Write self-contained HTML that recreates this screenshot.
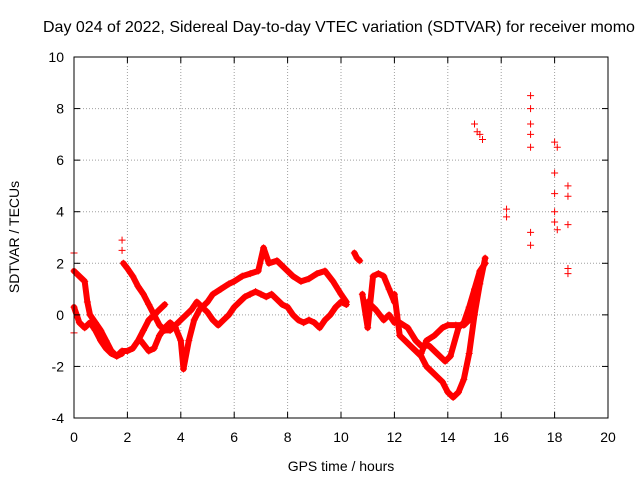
<!DOCTYPE html>
<html><head><meta charset="utf-8"><style>
html,body{margin:0;padding:0;background:#fff;overflow:hidden}
svg{display:block;font-family:"Liberation Sans",sans-serif}
</style></head><body>
<svg id="chart" width="640" height="480" viewBox="0 0 640 480">
<text x="43" y="32" font-size="16" fill="#000">Day 024 of 2022, Sidereal Day-to-day VTEC variation (SDTVAR) for receiver momo</text>
<g id="grid"></g>
<g id="series"></g>
<rect x="74" y="57" width="534" height="361" fill="none" stroke="#000" stroke-width="1"/>
<g id="ticks"></g>
<text x="341" y="471" font-size="14" text-anchor="middle">GPS time / hours</text>
<text x="19" y="237" font-size="14" text-anchor="middle" transform="rotate(-90 19 237)">SDTVAR / TECUs</text>
</svg>
<script>
const xTicks=[0,2,4,6,8,10,12,14,16,18,20];
const yTicks=[-4,-2,0,2,4,6,8,10];
const traceA=[[0,1.7],[0.2,1.5],[0.4,1.3],[0.5,0.5],[0.6,0],[0.8,-0.3],[1,-0.6],[1.2,-1],[1.4,-1.4],[1.6,-1.6],[1.8,-1.4],[2,-1.4],[2.2,-1.3],[2.4,-1],[2.6,-0.6],[2.8,-0.2],[3,0],[3.2,0.2],[3.4,0.4]];
const traceB=[[0,0.3],[0.2,-0.3],[0.4,-0.5],[0.6,-0.3],[0.8,-0.6],[1,-1],[1.2,-1.3],[1.4,-1.5],[1.6,-1.6],[1.8,-1.5]];
const traceC=[[1.85,2],[2,1.8],[2.2,1.5],[2.4,1.1],[2.6,0.8],[2.8,0.4],[3,0],[3.2,-0.4],[3.4,-0.6],[3.6,-0.6],[3.8,-0.4],[4,-0.2],[4.2,0],[4.4,0.2],[4.6,0.5],[4.8,0.3],[5,0.1],[5.2,-0.2],[5.4,-0.4],[5.6,-0.2],[5.8,0],[6,0.3],[6.2,0.5],[6.4,0.7],[6.6,0.8],[6.8,0.9],[7,0.8],[7.2,0.7],[7.4,0.8],[7.6,0.6],[7.8,0.4],[8,0.3],[8.2,0],[8.4,-0.2],[8.6,-0.3],[8.8,-0.2],[9,-0.3],[9.2,-0.5],[9.4,-0.2],[9.6,0],[9.8,0.3],[10,0.5],[10.2,0.4]];
const traceD=[[2.5,-1],[2.8,-1.4],[3,-1.3],[3.2,-0.8],[3.4,-0.5],[3.6,-0.3],[3.8,-0.5],[4,-1],[4.1,-2.1],[4.3,-1],[4.5,-0.2],[4.7,0.2],[5,0.5],[5.2,0.8],[5.5,1],[5.8,1.2],[6,1.3],[6.3,1.5],[6.6,1.6],[6.9,1.7],[7.1,2.6],[7.3,2],[7.6,2.1],[7.9,1.8],[8.2,1.5],[8.5,1.3],[8.8,1.4],[9.1,1.6],[9.4,1.7],[9.7,1.3],[10,0.8],[10.2,0.5]];
const traceE=[[12,0.8],[12.1,0],[12.2,-0.8],[12.4,-1],[12.6,-1.2],[12.8,-1.4],[13,-1.6],[13.2,-2],[13.4,-2.2],[13.6,-2.4],[13.8,-2.6],[14,-3],[14.2,-3.2],[14.4,-3],[14.6,-2.5],[14.8,-1.5],[15,0],[15.2,1.2],[15.4,2.2]];
const traceF=[[12.2,-0.3],[12.5,-0.5],[12.8,-1],[13,-1.2],[13.3,-1.2],[13.6,-1.5],[13.9,-1.8],[14.1,-1.6],[14.4,-0.5],[14.6,-0.3],[14.8,0.3],[15,1],[15.2,1.7],[15.4,2]];
const traceG=[[13,-1.5],[13.2,-1],[13.5,-0.8],[13.8,-0.5],[14,-0.4],[14.3,-0.4],[14.6,-0.4],[14.8,-0.2],[15,0.8]];
const traceH=[[10.5,2.4],[10.6,2.2],[10.7,2.1]];
const traceI=[[10.8,0.8],[11,-0.5],[11.2,1.5],[11.4,1.6],[11.6,1.5],[11.8,1],[12,0.5]];
const traceJ=[[11,0.5],[11.3,0.2],[11.6,-0.2],[11.8,0],[12,-0.3]];
const isolated=[[1.8,2.9],[1.8,2.5],[15,7.4],[15.1,7.1],[15.2,7],[15.3,6.8],[16.2,4.1],[16.2,3.8],[17.1,8.5],[17.1,8],[17.1,7.4],[17.1,7],[17.1,6.5],[17.1,3.2],[17.1,2.7],[18,6.7],[18.1,6.5],[18,5.5],[18,4.7],[18,4],[18,3.6],[18.1,3.3],[18.5,5],[18.5,4.6],[18.5,3.5],[18.5,1.8],[18.5,1.6],[0,2.4],[0,-0.7]];
const traces=[traceA,traceB,traceC,traceD,traceE,traceF,traceG,traceH,traceI,traceJ];

const NS="http://www.w3.org/2000/svg";
const X0=74,X1=608,Y0=418,Y1=57;
function sx(h){return X0+(h-0)/(20-0)*(X1-X0);}
function sy(v){return Y0-(v+4)/(14)*(Y0-Y1);}
function mk(tag,attrs,parent){const e=document.createElementNS(NS,tag);for(const k in attrs)e.setAttribute(k,attrs[k]);parent.appendChild(e);return e;}
const grid=document.getElementById('grid'),ticks=document.getElementById('ticks'),ser=document.getElementById('series');
xTicks.forEach(t=>{
  const x=sx(t);
  if(t>0&&t<20){const l=mk('line',{x1:x,x2:x,y1:Y1,y2:Y0,stroke:'#a0a0a0','stroke-dasharray':'1,2'},grid);
  
  }
  mk('line',{x1:x,x2:x,y1:Y0,y2:Y0-6,stroke:'#000'},ticks);
  mk('line',{x1:x,x2:x,y1:Y1,y2:Y1+6,stroke:'#000'},ticks);
  const tx=mk('text',{x:x,y:Y0+24,'font-size':14,'text-anchor':'middle'},ticks);
  tx.textContent=t;
  
  
});
yTicks.forEach(t=>{
  const y=sy(t);
  if(t>-4&&t<10){const l=mk('line',{x1:X0,x2:X1,y1:y,y2:y,stroke:'#a0a0a0','stroke-dasharray':'1,2'},grid);
  
  }
  mk('line',{x1:X0,x2:X0+6,y1:y,y2:y,stroke:'#000'},ticks);
  mk('line',{x1:X1,x2:X1-6,y1:y,y2:y,stroke:'#000'},ticks);
  const tx=mk('text',{x:X0-10,y:y+5,'font-size':14,'text-anchor':'end'},ticks);
  tx.textContent=t;
  
  
});
function plus(h,v){
  const x=sx(h),y=sy(v);
  const p=mk('path',{d:`M${x-3.5},${y}H${x+3.5}M${x},${y-3.5}V${y+3.5}`,stroke:'#f00','stroke-width':1},ser);
  
  
}
traces.forEach(tr=>{
  const pl=mk('polyline',{points:tr.map(p=>sx(p[0])+','+sy(p[1])).join(' '),fill:'none',stroke:'#f00','stroke-width':6,'stroke-linejoin':'round','stroke-linecap':'round'},ser);
  
  
  tr.forEach(p=>plus(p[0],p[1]));
});
isolated.forEach(p=>plus(p[0],p[1]));
</script>
</body></html>
